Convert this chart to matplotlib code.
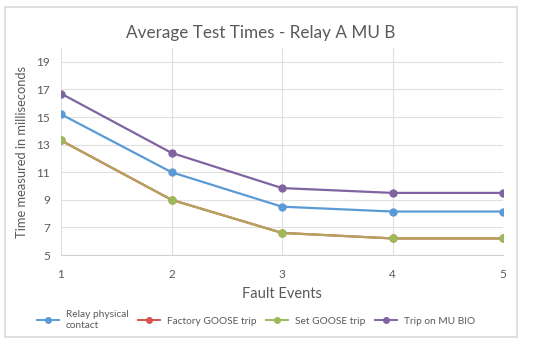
import matplotlib
matplotlib.use("Agg")
import matplotlib.pyplot as plt
from matplotlib.lines import Line2D
from matplotlib.patches import Rectangle

plt.rcParams['font.family'] = ['Lato', 'DejaVu Sans']

events = [1, 2, 3, 4, 5]
relay_physical = [15.2, 11.0, 8.5, 8.15, 8.15]
factory_goose = [13.3, 9.0, 6.6, 6.2, 6.2]
set_goose = [13.3, 9.0, 6.6, 6.2, 6.2]
trip_mu_bio = [16.7, 12.4, 9.85, 9.5, 9.5]
series_names = ["Relay physical\ncontact", "Factory GOOSE trip", "Set GOOSE trip", "Trip on MU BIO"]
yticks = [5, 7, 9, 11, 13, 15, 17, 19]

txt = '#595959'
fig = plt.figure(figsize=(5.5, 3.44), dpi=100)
fig.patches.append(Rectangle((5/550, 1-337/344), 512/550, 330/344, transform=fig.transFigure,
                             fill=False, edgecolor='#d9d9d9', lw=1.2))
ax = fig.add_axes([61/550, 1-255/344, 442/550, 207/344])

c_blue = '#5b9bd5'
c_red = '#d9534f'
c_green = '#9bbb59'
c_purple = '#8064a2'

ax.plot(events, factory_goose, color=c_red, lw=1.6, marker='o', ms=5, zorder=3)
ax.plot(events, set_goose, color='#b3a35e', lw=1.6, marker='o', ms=5,
        markerfacecolor=c_green, markeredgecolor=c_green, zorder=4)
ax.plot(events, relay_physical, color=c_blue, lw=1.6, marker='o', ms=5, zorder=4)
ax.plot(events, trip_mu_bio, color=c_purple, lw=1.6, marker='o', ms=5, zorder=4)

ax.set_xlim(1, 5)
ax.set_ylim(5, 20)
ax.set_xticks(events)
ax.set_yticks(yticks)
ax.grid(True, color='#e0e0e0', lw=0.8)
for s in ['top', 'right', 'left']:
    ax.spines[s].set_visible(False)
ax.spines['bottom'].set_color('#d0d0d0')
ax.tick_params(length=0, colors=txt, labelsize=8.5)
ax.tick_params(axis='x', pad=10)
ax.tick_params(axis='y', pad=8)
ax.set_xlabel('Fault Events', color=txt, fontsize=10.5, labelpad=5)
ax.set_ylabel('Time measured in milliseconds', color=txt, fontsize=9.3, labelpad=6)
fig.text(261/550, 1-33/344, 'Average Test Times - Relay A MU B', ha='center', va='center',
         fontsize=12.3, color=txt)

handles = [Line2D([0], [0], color=c, marker='o', ms=4, lw=1.4) for c in [c_blue, c_red, c_green, c_purple]]
fig.legend(handles, series_names, loc='center', bbox_to_anchor=(256/550, 1-320/344), ncol=4,
           frameon=False, fontsize=7.3, labelcolor=txt, handlelength=2.2, columnspacing=0.9,
           handletextpad=0.7)

fig.savefig('out.png', dpi=100)
